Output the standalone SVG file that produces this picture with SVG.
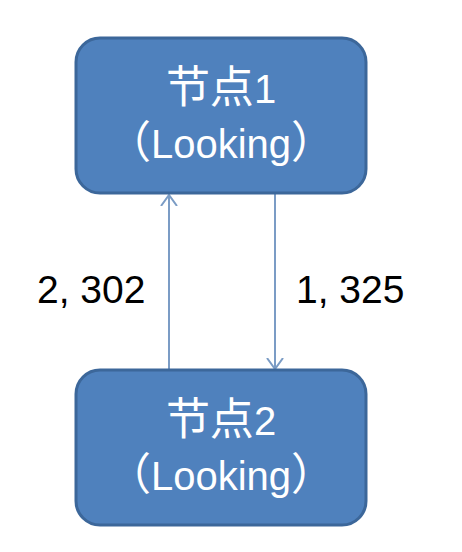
<svg xmlns="http://www.w3.org/2000/svg" width="462" height="552" viewBox="0 0 462 552">
<style>
.box{fill:#4F81BD;stroke:#3C679A;stroke-width:3}
.t{fill:#FFFFFF;font-family:"Liberation Sans","Noto Sans CJK SC",sans-serif;font-size:40px;text-anchor:middle}
.cjk{font-family:"Noto Sans CJK SC",sans-serif;font-size:44px}
.lbl{fill:#000000;font-family:"Liberation Sans",sans-serif;font-size:39px}
.edge{stroke:#7B9CC5;stroke-width:2;fill:none}
</style>
<defs>
<marker id="ah" viewBox="0 0 20 20" refX="11" refY="10" markerWidth="20" markerHeight="20" markerUnits="userSpaceOnUse" orient="auto">
<path d="M0,2 L11,10 L0,18" fill="none" stroke="#7B9CC5" stroke-width="2"/>
</marker>
</defs>
<rect width="462" height="552" fill="#FFFFFF"/>
<g id="edges">
<line class="edge" x1="169" y1="370" x2="169" y2="195" marker-end="url(#ah)"/>
<line class="edge" x1="275" y1="194" x2="275" y2="369" marker-end="url(#ah)"/>
<text class="lbl" x="37" y="303">2, 302</text>
<text class="lbl" x="296" y="303">1, 325</text>
</g>
<g id="node1">
<rect class="box" x="76" y="38" width="290" height="155" rx="24"/>
<text class="t" x="221" y="103"><tspan class="cjk">节点</tspan>1</text>
<text class="t" x="221" y="158"><tspan class="cjk">（</tspan>Looking<tspan class="cjk">）</tspan></text>
</g>
<g id="node2">
<rect class="box" x="76" y="370" width="290" height="155" rx="24"/>
<text class="t" x="221" y="435"><tspan class="cjk">节点</tspan>2</text>
<text class="t" x="221" y="490"><tspan class="cjk">（</tspan>Looking<tspan class="cjk">）</tspan></text>
</g>
</svg>
